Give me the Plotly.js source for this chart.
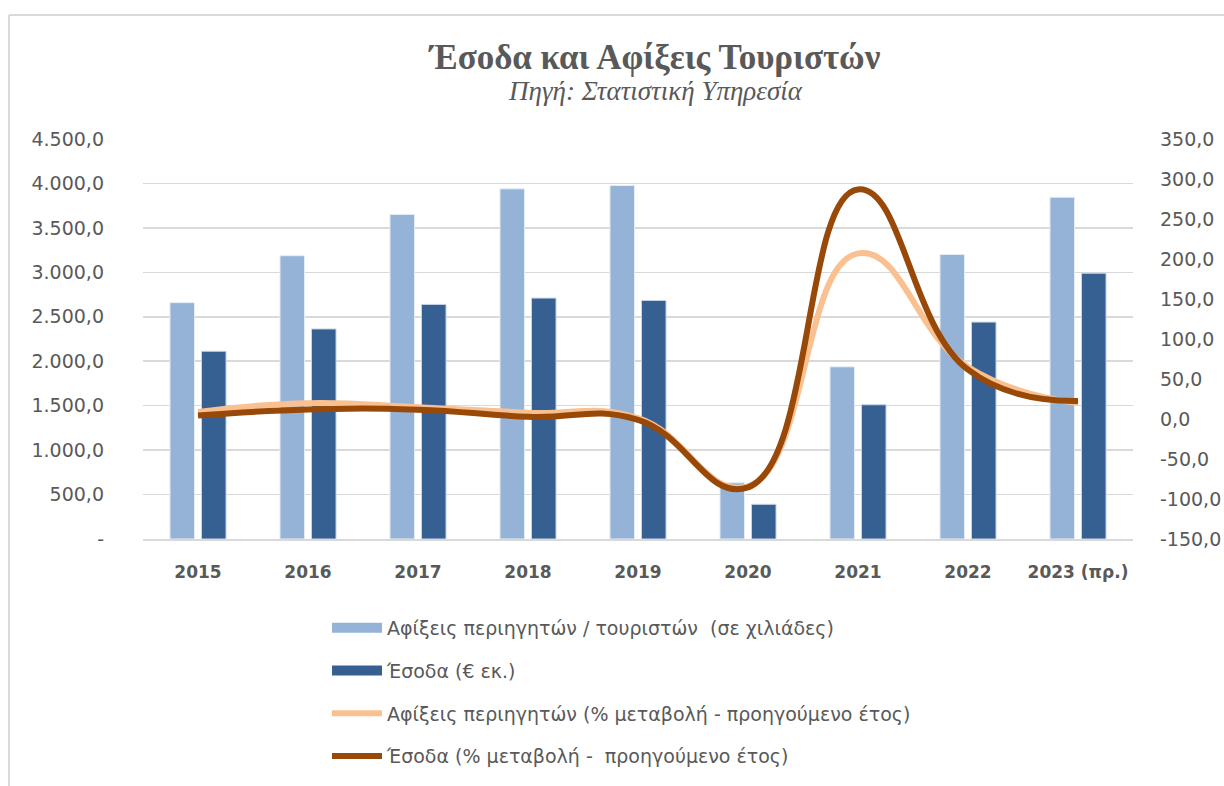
<!DOCTYPE html>
<html>
<head>
<meta charset="utf-8">
<script src="https://cdn.plot.ly/plotly-3.0.1.min.js"></script>
<style>
  html, body { margin: 0; padding: 0; background: #ffffff; }
  #chart { width: 1224px; height: 786px; }
</style>
</head>
<body>
<div id="chart"></div>
<script>
// ---- Data ----
const years = ["2015", "2016", "2017", "2018", "2019", "2020", "2021", "2022", "2023 (πρ.)"];
const arrivals = [2659, 3187, 3652, 3939, 3977, 632, 1937, 3201, 3845];      // thousands
const revenue = [2112, 2363, 2639, 2710, 2683, 390, 1510, 2440, 2990];        // € million
const arrivalsPct = [8.9, 19.8, 14.6, 7.8, 1.0, -84.1, 207.0, 65.0, 20.0];
const revenuePct = [4.4, 11.9, 11.7, 2.7, -1.0, -85.5, 287.0, 61.6, 22.5];

const leftTickVals = [0, 500, 1000, 1500, 2000, 2500, 3000, 3500, 4000, 4500];
const leftTickText = ["-", "500,0", "1.000,0", "1.500,0", "2.000,0", "2.500,0", "3.000,0", "3.500,0", "4.000,0", "4.500,0"];
const rightTickVals = [-150, -100, -50, 0, 50, 100, 150, 200, 250, 300, 350];
const rightTickText = ["-150,0", "-100,0", "-50,0", "0,0", "50,0", "100,0", "150,0", "200,0", "250,0", "300,0", "350,0"];

const names = [
  "Αφίξεις περιηγητών / τουριστών  (σε χιλιάδες)",
  "Έσοδα (€ εκ.)",
  "Αφίξεις περιηγητών (% μεταβολή - προηγούμενο έτος)",
  "Έσοδα (% μεταβολή -  προηγούμενο έτος)"
];
const colors = ["#95B3D7", "#376092", "#FAC090", "#984807"];

const textColor = "#595959";
const sans = "DejaVu Sans, Open Sans, sans-serif";
const serif = "Liberation Serif, DejaVu Serif, serif";

const traces = [
  {
    type: "bar", x: years, y: arrivals, name: names[0], legendgroup: "a", showlegend: false,
    marker: { color: colors[0], line: { color: "#E4ECF6", width: 1 } },
    hoverinfo: "x+y"
  },
  {
    type: "bar", x: years, y: revenue, name: names[1], legendgroup: "b", showlegend: false,
    marker: { color: colors[1], line: { color: "#C5D3E6", width: 1 } },
    hoverinfo: "x+y"
  },
  // legend proxies for the bar series (wide rectangular swatches)
  {
    type: "scatter", mode: "lines", x: [null], y: [null], name: names[0], legendgroup: "a",
    line: { color: colors[0], width: 13 }, hoverinfo: "skip"
  },
  {
    type: "scatter", mode: "lines", x: [null], y: [null], name: names[1], legendgroup: "b",
    line: { color: colors[1], width: 13 }, hoverinfo: "skip"
  },
  {
    type: "scatter", mode: "lines", x: years, y: arrivalsPct, name: names[2], legendgroup: "c",
    yaxis: "y2",
    line: { color: colors[2], width: 6, shape: "spline", smoothing: 1.3 },
    hoverinfo: "x+y"
  },
  {
    type: "scatter", mode: "lines", x: years, y: revenuePct, name: names[3], legendgroup: "d",
    yaxis: "y2",
    line: { color: colors[3], width: 6, shape: "spline", smoothing: 1.3 },
    hoverinfo: "x+y"
  }
];

const layout = {
  width: 1224,
  height: 786,
  margin: { l: 143, r: 91, t: 139, b: 247, pad: 0, autoexpand: false },
  paper_bgcolor: "#ffffff",
  plot_bgcolor: "#ffffff",
  barmode: "group",
  bargap: 0.427,
  bargroupgap: 0.222,
  showlegend: true,
  title: {
    text: "<b>Έσοδα και Αφίξεις Τουριστών</b>",
    font: { family: serif, size: 35, color: textColor },
    x: (655 - 143) / 990, xref: "paper", xanchor: "center",
    y: 1 - 57 / 786, yref: "container", yanchor: "middle"
  },
  annotations: [
    {
      text: "<i>Πηγή: Στατιστική Υπηρεσία</i>",
      xref: "paper", yref: "paper",
      x: (655 - 143) / 990, y: (539 - 91) / 400,
      xanchor: "center", yanchor: "middle",
      showarrow: false,
      font: { family: serif, size: 27, color: textColor }
    }
  ],
  xaxis: {
    type: "category",
    tickfont: { family: sans, size: 17, color: textColor, weight: "bold" },
    showgrid: false,
    showline: true,
    linecolor: "#D9D9D9",
    linewidth: 1.5,
    ticks: "",
    ticklabelstandoff: 17,
    automargin: false,
    fixedrange: true
  },
  yaxis: {
    range: [0, 4500],
    tickvals: leftTickVals,
    ticktext: leftTickText,
    tickfont: { family: sans, size: 19, color: textColor },
    showgrid: true,
    gridcolor: "#D9D9D9",
    gridwidth: 1.5,
    zeroline: false,
    showline: false,
    ticks: "",
    ticklabelstandoff: 38,
    automargin: false,
    fixedrange: true
  },
  yaxis2: {
    overlaying: "y",
    side: "right",
    range: [-150, 350],
    tickvals: rightTickVals,
    ticktext: rightTickText,
    tickfont: { family: sans, size: 19, color: textColor },
    showgrid: false,
    zeroline: false,
    showline: false,
    ticks: "",
    ticklabelstandoff: 26,
    automargin: false,
    fixedrange: true
  },
  legend: {
    orientation: "v",
    x: (327 - 143) / 990,
    y: (539 - 609) / 400,
    xanchor: "left",
    yanchor: "top",
    traceorder: "grouped",
    tracegroupgap: 15,
    itemwidth: 50,
    font: { family: sans, size: 19, color: textColor },
    bgcolor: "rgba(0,0,0,0)"
  },
  shapes: [
    {
      type: "line", xref: "paper", yref: "paper",
      x0: (9 - 143) / 990, x1: (1224 - 143) / 990,
      y0: (539 - 15) / 400, y1: (539 - 15) / 400,
      line: { color: "#D9D9D9", width: 2 }
    },
    {
      type: "line", xref: "paper", yref: "paper",
      x0: (9 - 143) / 990, x1: (9 - 143) / 990,
      y0: (539 - 15) / 400, y1: (539 - 790) / 400,
      line: { color: "#D9D9D9", width: 2 }
    }
  ]
};

Plotly.newPlot("chart", traces, layout, { displayModeBar: false, staticPlot: true });
</script>
</body>
</html>
